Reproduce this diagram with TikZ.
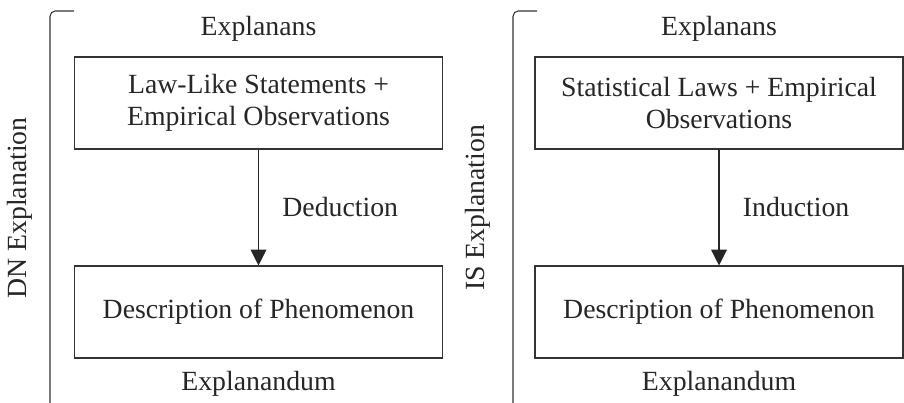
\documentclass[tikz,border=0pt]{standalone}
\usepackage{fontspec}
\setmainfont{Liberation Serif}
\usetikzlibrary{arrows.meta}

\begin{document}
\begin{tikzpicture}[every node/.style={font=\fontsize{15.8}{18}\selectfont, text=black!85},
  premise/.style={draw=black!80, line width=0.6pt, minimum width=7.36cm, minimum height=1.84cm, inner sep=0pt, align=center},
  brace/.style={draw=black!80, line width=0.6pt, rounded corners=3pt},
  infer/.style={draw=black!85, line width=0.6pt, -{Triangle[width=9pt,length=9pt]}}]
\useasboundingbox (0,0) rectangle (18.08,8.06);

\draw[brace] (1.48,7.84) -- (1.0,7.84) -- (1.0,0);
\node[rotate=90] (dnlabel) at (0.4,3.9) {DN Explanation};
\node (dnexplanans) at (5.17,7.48) {Explanans};
\node[premise] (dnlaws) at (5.17,6.0) {Law-Like Statements +\\Empirical Observations};
\node[premise] (dnphen) at (5.17,1.82) {Description of Phenomenon};
\node (dnexplanandum) at (5.17,0.38) {Explanandum};
\draw[infer] (dnlaws) -- node[right=0.35cm] (deduction) {Deduction} (dnphen);

\draw[brace] (10.74,7.84) -- (10.26,7.84) -- (10.26,0);
\node[rotate=90] (islabel) at (9.56,3.9) {IS Explanation};
\node (isexplanans) at (14.38,7.48) {Explanans};
\node[premise] (islaws) at (14.38,6.0) {Statistical Laws + Empirical\\Observations};
\node[premise] (isphen) at (14.38,1.82) {Description of Phenomenon};
\node (isexplanandum) at (14.38,0.38) {Explanandum};
\draw[infer] (islaws) -- node[right=0.35cm] (induction) {Induction} (isphen);
\end{tikzpicture}
\end{document}
